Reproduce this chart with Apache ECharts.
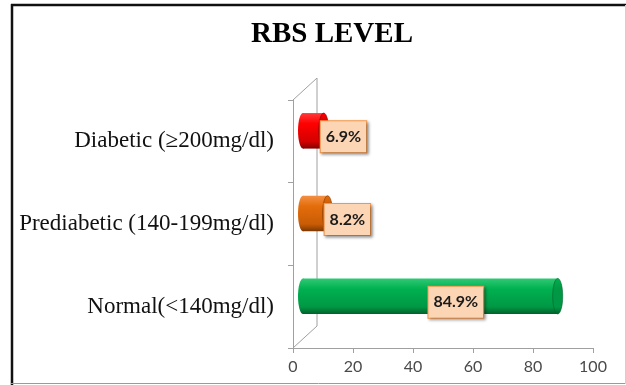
<!DOCTYPE html>
<html>
<head>
<meta charset="utf-8">
<script src="https://cdn.jsdelivr.net/npm/echarts@6/dist/echarts.min.js"></script>
<style>
html, body { margin: 0; padding: 0; background: #fff; }
#main { width: 626px; height: 385px; }
</style>
</head>
<body>
<div id="main"></div>
<script>
var categories = ['Normal(<140mg/dl)', 'Prediabetic (140-199mg/dl)', 'Diabetic (\u2265200mg/dl)'];
var values = [84.9, 8.2, 6.9];
var xTicks = [0, 20, 40, 60, 80, 100];

// cylinder colours, bottom category first
var barColors = [
    ['#2fca74', '#00b050', '#009844', '#00612b'],
    ['#f39045', '#e46c0a', '#c95c06', '#7c3803'],
    ['#ff3a3a', '#ff0000', '#d40000', '#850000']
];

var gl = 293, gt = 100, gw = 300, gh = 248;
var depthX = 24, depthY = -22;

function grad(c) {
    return new echarts.graphic.LinearGradient(0, 0, 0, 1, [
        {offset: 0, color: c[0]},
        {offset: 0.3, color: c[1]},
        {offset: 0.8, color: c[2]},
        {offset: 1, color: c[3]}
    ]);
}

function renderCylinder(params, api) {
    var v = api.value(0), c = api.value(1);
    var p0 = api.coord([0, c]), p1 = api.coord([v, c]);
    var band = api.size([0, 1])[1];
    var h = band * 0.43;
    var dx = 10, dy = -10.5;
    var x0 = p0[0] + dx, x1 = p1[0] + dx, yc = p0[1] + dy;
    var col = barColors[params.dataIndex];
    var txt = v.toFixed(1) + '%';
    var big = v > 20;
    return {
        type: 'group',
        children: [
            {type: 'ellipse', shape: {cx: x0, cy: yc, rx: 5, ry: h / 2}, style: {fill: grad(col)}},
            {type: 'rect', shape: {x: x0, y: yc - h / 2, width: x1 - x0, height: h}, style: {fill: grad(col)}},
            {type: 'ellipse', shape: {cx: x1, cy: yc, rx: 5, ry: h / 2},
                style: {fill: grad([col[1], col[2], col[2], col[3]]), stroke: col[3], lineWidth: 0.6}},
            {type: 'text', z2: 10,
                x: big ? x0 + (x1 - x0) * 0.6 : x1 - 3, y: yc + 6,
                style: {
                    text: txt, font: 'bold 16px Lato, "Open Sans", sans-serif', fill: '#1a1a1a',
                    align: big ? 'center' : 'left', verticalAlign: 'middle',
                    backgroundColor: '#fcd5b4', borderColor: '#f79646', borderWidth: 1,
                    padding: [8, 5, 7, 5],
                    shadowBlur: 3, shadowColor: 'rgba(0,0,0,0.35)', shadowOffsetX: 1.5, shadowOffsetY: 1.5
                }}
        ]
    };
}

var chart = echarts.init(document.getElementById('main'));
chart.setOption({
    animation: false,
    backgroundColor: '#fff',
    title: {
        text: 'RBS LEVEL', left: 246, top: 15,
        textStyle: {fontFamily: '"Liberation Serif", "Times New Roman", serif', fontWeight: 'bold', fontSize: 29, color: '#000'}
    },
    grid: {left: gl, top: gt, width: gw, height: gh},
    xAxis: {
        type: 'value', min: xTicks[0], max: xTicks[xTicks.length - 1], interval: xTicks[1] - xTicks[0],
        axisLine: {show: true, lineStyle: {color: '#a0a0a0', width: 1}},
        axisTick: {show: true, length: 5, lineStyle: {color: '#a0a0a0'}},
        axisLabel: {margin: 11, fontFamily: 'Lato, sans-serif', fontSize: 16, color: '#4a4a4a'},
        splitLine: {show: false}
    },
    yAxis: {
        type: 'category', data: categories,
        axisLine: {show: true, lineStyle: {color: '#a0a0a0', width: 1}},
        axisTick: {show: true, length: 5, lineStyle: {color: '#a0a0a0'}},
        axisLabel: {margin: 19, fontFamily: '"Liberation Serif", "Times New Roman", serif', fontSize: 23, color: '#111'}
    },
    series: [{
        type: 'custom',
        renderItem: renderCylinder,
        encode: {x: 0, y: 1},
        data: values.map(function (v, i) { return [v, i]; }),
        z: 5
    }],
    graphic: [
        {type: 'polyline', z: 1, silent: true,
            shape: {points: [[gl, gt], [gl + depthX, gt + depthY], [gl + depthX, gt + gh + depthY], [gl, gt + gh]]},
            style: {stroke: '#a0a0a0', lineWidth: 1, fill: null}},
        {type: 'line', z: 1, shape: {x1: 11, y1: 5, x2: 626, y2: 5}, style: {stroke: '#111', lineWidth: 2.5}},
        {type: 'line', z: 1, shape: {x1: 12, y1: 4, x2: 12, y2: 385}, style: {stroke: '#111', lineWidth: 2.5}},
        {type: 'line', z: 1, shape: {x1: 11, y1: 383.5, x2: 626, y2: 383.5}, style: {stroke: '#9a9a9a', lineWidth: 1}},
        {type: 'line', z: 1, shape: {x1: 625.5, y1: 5, x2: 625.5, y2: 384}, style: {stroke: '#d0d0d0', lineWidth: 1}}
    ]
});
</script>
</body>
</html>
